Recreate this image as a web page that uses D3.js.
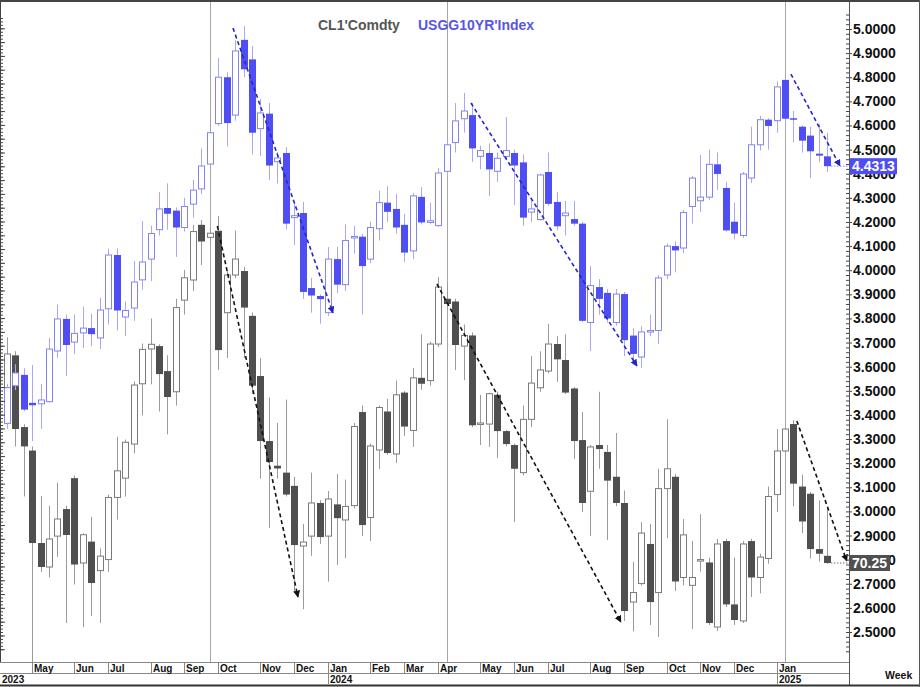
<!DOCTYPE html>
<html><head><meta charset="utf-8">
<script src="https://cdn.jsdelivr.net/npm/d3@7"></script>
<style>body{margin:0;background:#fff}svg{display:block;font-family:"Liberation Sans",Arial,sans-serif}</style>
</head><body><svg id="c" width="920" height="687"></svg>
<script>
// ---------------- DATA ----------------
const firstWeek = new Date(2023, 3, 10);   // week of Mon 10 Apr 2023
const lastWeek  = new Date(2025, 1, 17);   // week of Mon 17 Feb 2025
const weeks = d3.timeMonday.range(firstWeek, d3.timeDay.offset(lastWeek, 1));

// USGG10YR Index weekly OHLC
const usOpen  = [3.365,3.521,3.566,3.450,3.446,3.455,3.665,3.798,3.702,3.740,3.760,3.719,3.840,4.063,3.806,3.843,3.960,4.046,4.168,4.258,4.247,4.177,4.274,4.337,4.440,4.608,4.800,4.643,4.955,4.874,4.587,4.649,4.450,4.486,4.218,4.237,3.926,3.893,3.824,4.046,3.940,4.135,4.139,4.046,4.172,4.280,4.254,4.188,4.080,4.304,4.198,4.185,4.410,4.529,4.628,4.643,4.472,4.486,4.410,4.472,4.486,4.447,4.241,4.210,4.407,4.283,4.226,4.212,4.193,3.783,3.930,3.906,3.783,3.901,3.729,3.640,3.745,3.750,3.980,4.100,4.092,4.264,4.288,4.303,4.439,4.341,4.201,4.144,4.382,4.520,4.624,4.620,4.789,4.630,4.595,4.558,4.483,4.472];
const usHigh  = [3.529,3.610,3.594,3.607,3.528,3.719,3.857,3.816,3.816,3.849,3.820,3.886,4.090,4.090,3.870,4.038,4.204,4.185,4.324,4.360,4.260,4.300,4.374,4.505,4.580,4.880,4.820,4.955,5.012,4.930,4.710,4.693,4.490,4.510,4.283,4.283,3.968,3.900,4.096,4.096,4.190,4.185,4.150,4.201,4.329,4.349,4.316,4.234,4.320,4.345,4.280,4.424,4.535,4.693,4.735,4.693,4.516,4.526,4.488,4.635,4.500,4.480,4.290,4.400,4.488,4.324,4.287,4.287,4.200,4.017,3.963,3.922,3.922,3.910,3.759,3.767,3.816,3.980,4.111,4.119,4.250,4.390,4.478,4.500,4.488,4.366,4.280,4.407,4.595,4.640,4.630,4.783,4.795,4.660,4.600,4.595,4.608,4.570];
const usLow   = [3.342,3.503,3.416,3.292,3.342,3.451,3.636,3.561,3.653,3.677,3.686,3.673,3.775,3.750,3.727,3.790,3.919,3.955,4.144,4.168,4.055,4.160,4.218,4.316,4.432,4.598,4.513,4.620,4.800,4.480,4.473,4.374,4.360,4.170,4.104,3.881,3.824,3.778,3.810,3.905,3.914,4.070,3.816,4.030,4.123,4.201,4.152,4.034,4.046,4.190,4.190,4.180,4.390,4.488,4.570,4.449,4.418,4.308,4.366,4.460,4.270,4.185,4.200,4.205,4.267,4.165,4.144,4.185,3.785,3.665,3.816,3.783,3.770,3.644,3.608,3.595,3.726,3.694,3.963,3.991,4.070,4.193,4.242,4.290,4.333,4.160,4.128,4.134,4.362,4.496,4.500,4.570,4.595,4.530,4.488,4.382,4.447,4.407];
const usClose = [3.513,3.574,3.422,3.440,3.462,3.673,3.798,3.690,3.738,3.760,3.735,3.835,4.063,3.833,3.833,3.951,4.034,4.152,4.254,4.234,4.177,4.264,4.332,4.432,4.570,4.800,4.610,4.909,4.833,4.570,4.652,4.434,4.465,4.193,4.226,3.910,3.895,3.880,4.046,3.940,4.123,4.140,4.017,4.177,4.280,4.242,4.177,4.073,4.308,4.198,4.205,4.403,4.520,4.619,4.660,4.505,4.496,4.418,4.464,4.496,4.434,4.218,4.254,4.395,4.275,4.182,4.237,4.193,3.790,3.936,3.881,3.800,3.901,3.710,3.653,3.744,3.750,3.968,4.100,4.082,4.239,4.382,4.303,4.439,4.399,4.165,4.152,4.399,4.520,4.624,4.598,4.760,4.628,4.625,4.537,4.493,4.475,4.4313];

// CL1 Comdty weekly OHLC
const clOpen  = [82.95,85.30,80.10,78.40,71.70,69.96,72.20,74.16,76.40,70.25,71.80,69.70,70.50,75.00,76.40,78.87,83.24,85.76,85.97,84.16,82.66,89.30,90.76,94.76,93.85,94.33,88.39,91.12,91.41,88.16,83.80,79.09,77.30,76.80,75.84,71.48,72.20,74.60,72.20,74.50,73.37,74.41,81.19,73.55,78.44,81.23,78.15,82.60,79.86,83.67,83.47,86.12,89.40,89.20,85.97,86.74,80.30,80.32,82.44,79.81,78.80,76.80,80.66,82.95,84.16,86.12,84.96,82.90,79.16,75.45,78.80,78.30,76.50,74.60,67.42,68.76,71.63,68.11,75.64,76.50,69.20,68.63,70.40,70.29,65.61,71.84,67.25,66.05,71.84,69.20,70.58,75.21,78.37,80.32,75.79,75.27,71.26,70.77];
const clHigh  = [86.60,85.60,80.30,78.70,75.10,74.40,76.08,74.40,76.60,72.40,73.60,71.30,75.20,79.40,79.20,83.40,86.16,87.97,86.10,85.30,89.40,91.48,94.76,95.10,94.50,95.40,91.40,94.35,91.70,88.40,85.10,82.24,80.40,82.09,76.50,73.08,76.80,74.80,75.47,76.70,76.30,80.40,81.66,78.90,81.66,82.15,83.47,82.70,84.38,86.82,86.30,90.97,90.54,89.40,87.53,86.96,82.44,82.60,82.66,79.90,78.90,81.66,85.25,85.59,87.59,86.68,86.82,83.00,81.19,78.80,82.66,78.80,79.67,75.50,70.34,73.22,73.08,77.08,80.66,76.70,73.44,71.84,73.80,70.63,72.00,72.00,70.63,71.84,72.00,70.92,75.79,79.96,80.10,80.61,76.65,75.40,74.79,74.24];
const clLow   = [82.60,78.70,75.07,63.00,69.60,69.20,70.70,65.90,68.70,65.60,66.40,65.90,69.60,73.40,75.07,78.20,80.95,83.20,81.23,79.57,81.66,88.26,89.96,91.84,93.50,84.24,85.10,90.90,85.10,82.50,76.36,72.80,76.36,75.07,68.20,66.90,70.77,71.63,68.90,70.10,70.60,74.20,72.20,71.84,77.08,78.08,77.50,79.45,78.66,82.80,83.10,85.90,88.70,84.24,83.50,80.10,78.80,78.66,77.86,78.70,73.22,76.60,80.10,82.66,84.00,83.38,82.50,77.79,73.95,72.20,77.08,71.92,74.36,66.05,65.30,68.60,65.76,64.90,72.06,68.22,68.63,65.47,69.63,65.76,65.32,67.06,65.76,65.90,67.79,68.05,70.20,73.95,78.20,74.36,72.42,70.58,70.34,70.20];
const clClose = [85.40,79.96,78.70,71.70,69.96,71.99,73.44,72.28,70.14,72.30,68.80,70.75,75.00,76.93,79.00,83.15,85.73,86.10,83.94,82.28,88.76,90.92,94.27,93.55,94.15,85.68,91.12,92.28,88.76,83.10,79.09,77.57,77.10,75.21,71.55,71.77,74.60,72.13,74.89,73.50,74.35,80.14,73.00,78.73,81.52,78.22,82.44,80.14,83.67,83.24,86.12,90.25,89.02,86.05,86.74,80.23,80.40,82.52,79.81,78.87,77.08,80.66,83.29,84.24,86.12,85.01,82.60,79.09,74.60,78.66,78.51,76.22,74.60,66.77,68.11,72.42,67.42,75.64,77.08,68.91,72.29,69.20,70.50,65.90,71.63,67.25,66.12,71.63,69.20,70.68,75.07,78.37,79.96,76.00,73.26,71.26,70.92,70.25];

// right axis ticks
const rightTicks = d3.range(25, 51).map(v => v / 10);
// marker weeks (vertical lines) – indexes into weeks
const markerWeeks = [24, 52, 92];
// trend lines: [weekIndex, value] start -> end
const usTrends = [[[26.75, 5.004], [38.57, 3.823]], [[54.88, 4.693], [74.50, 3.603]], [[92.70, 4.813], [98.50, 4.432]]];
const clTrends = [[[24.90, 94.67], [34.43, 67.79]], [[50.86, 90.47], [72.60, 65.97]], [[93.40, 80.54], [99.30, 70.40]]];
const usLast = "4.4313", clLast = "70.25";

// ---------------- LAYOUT ----------------
const svg = d3.select("#c");
const plotR = 849, plotT = 2, plotB = 662, monthB = 673, yearB = 684;

const x = d3.scaleTime().domain([firstWeek, lastWeek]).range([6.7, 827.3]);
const yR = d3.scaleLinear().domain([2.5, 5.0]).range([632, 29]);
const yCL = d3.scaleLinear().domain([65.25, 108.95]).range([632, 29]);
const weekAt = i => new Date(firstWeek.getTime() + i * 7 * 864e5);

svg.append("defs").call(df => {
  df.append("clipPath").attr("id", "plotclip").append("rect")
    .attr("x", 0).attr("y", plotT).attr("width", plotR).attr("height", plotB - plotT);
  [["arrB", "#2626c8"], ["arrK", "#111"]].forEach(([id, col]) => {
    df.append("marker").attr("id", id).attr("viewBox", "0 0 10 10").attr("refX", 9).attr("refY", 5)
      .attr("markerWidth", 7).attr("markerHeight", 7).attr("orient", "auto-start-reverse")
      .attr("markerUnits", "userSpaceOnUse")
      .append("path").attr("d", "M0,0 L10,5 L0,10 z").attr("fill", col);
  });
});

const plot = svg.append("g").attr("clip-path", "url(#plotclip)");

// vertical marker lines
plot.selectAll(".vline").data(markerWeeks).join("line")
  .attr("x1", i => Math.round(x(weeks[i])) + 0.5).attr("x2", i => Math.round(x(weeks[i])) + 0.5)
  .attr("y1", 0).attr("y2", plotB).attr("stroke", "#a6a6a6").attr("stroke-width", 1);

function candles(O, H, L, C, y, col) {
  const data = weeks.map((d, i) => ({ d, o: O[i], h: H[i], l: L[i], c: C[i] }));
  const g = plot.append("g");
  const left = d => Math.round(x(d.d) - 3);
  g.selectAll("line").data(data).join("line")
    .attr("x1", d => left(d) + 3.5).attr("x2", d => left(d) + 3.5)
    .attr("y1", d => y(d.h)).attr("y2", d => y(d.l))
    .attr("stroke", col.wick).attr("stroke-width", 1);
  g.selectAll("rect").data(data).join("rect")
    .attr("x", d => d.c >= d.o ? left(d) + 0.5 : left(d))
    .attr("width", d => d.c >= d.o ? 6 : 7)
    .attr("y", d => Math.min(y(d.o), y(d.c)))
    .attr("height", d => Math.max(Math.abs(y(d.o) - y(d.c)), 1.5))
    .attr("fill", d => d.c >= d.o ? "#fff" : col.fill)
    .attr("stroke", d => d.c >= d.o ? col.line : "none").attr("stroke-width", 1);
}
candles(clOpen, clHigh, clLow, clClose, yCL, { wick: "#9a9a9a", fill: "#4f4f4f", line: "#7a7a7a" });
candles(usOpen, usHigh, usLow, usClose, yR, { wick: "#a8a8f4", fill: "#4e4ef2", line: "#8484ee" });

// trend lines
const tl = d3.line().x(p => x(weekAt(p[0])));
plot.selectAll(".ust").data(usTrends).join("path")
  .attr("d", t => tl.y(p => yR(p[1]))(t)).attr("fill", "none")
  .attr("stroke", "#2626c8").attr("stroke-width", 1.6).attr("stroke-dasharray", "4,3")
  .attr("marker-end", "url(#arrB)");
plot.selectAll(".clt").data(clTrends).join("path")
  .attr("d", t => tl.y(p => yCL(p[1]))(t)).attr("fill", "none")
  .attr("stroke", "#111").attr("stroke-width", 1.6).attr("stroke-dasharray", "4,3")
  .attr("marker-end", "url(#arrK)");

// dotted leaders to last price
const lastX = x(weeks[weeks.length - 1]) + 4;
svg.append("line").attr("x1", lastX).attr("x2", plotR).attr("y1", yR(usClose[usClose.length - 1])).attr("y2", yR(usClose[usClose.length - 1]))
  .attr("stroke", "#4e4ef2").attr("stroke-dasharray", "1,2");
svg.append("line").attr("x1", lastX).attr("x2", plotR).attr("y1", yCL(clClose[clClose.length - 1])).attr("y2", yCL(clClose[clClose.length - 1]))
  .attr("stroke", "#333").attr("stroke-dasharray", "1,2");

// legend
svg.append("text").attr("x", 318).attr("y", 30).attr("font-size", 14).attr("font-weight", "bold")
  .attr("fill", "#555").text("CL1'Comdty");
svg.append("text").attr("x", 418).attr("y", 30).attr("font-size", 14).attr("font-weight", "bold")
  .attr("fill", "#5757e4").text("USGG10YR'Index");

// left ruler (CL1 scale, labels hidden)
const leftAx = svg.append("g").attr("transform", "translate(0,0)")
  .call(d3.axisRight(yCL).tickValues(d3.range(64, 110, 0.25)).tickSize(3).tickFormat(""));
leftAx.select(".domain").remove();
leftAx.selectAll("line").attr("stroke", "#444");
const leftMaj = svg.append("g").call(d3.axisRight(yCL).tickValues(d3.range(64, 110, 1)).tickSize(5).tickFormat(""));
leftMaj.select(".domain").remove();
leftMaj.selectAll("line").attr("stroke", "#444");
svg.append("line").attr("x1", 0.5).attr("x2", 0.5).attr("y1", plotT).attr("y2", plotB).attr("stroke", "#444");

// right axis
const rMinor = svg.append("g").attr("transform", `translate(${plotR},0)`)
  .call(d3.axisLeft(yR).tickValues(d3.range(2.42, 5.08, 0.02)).tickSize(3).tickFormat(""));
rMinor.select(".domain").remove();
rMinor.selectAll("line").attr("stroke", "#444");
const rAx = svg.append("g").attr("transform", `translate(${plotR},0)`)
  .call(d3.axisRight(yR).tickValues(rightTicks).tickSize(3).tickPadding(1).tickFormat(d3.format(".4f")));
rAx.select(".domain").remove();
rAx.selectAll("line").attr("stroke", "#444");
rAx.selectAll("text").attr("font-size", 14).attr("font-weight", "bold").attr("fill", "#111")
  .attr("font-family", "Liberation Sans, Arial, sans-serif");
svg.append("line").attr("x1", plotR + 0.5).attr("x2", plotR + 0.5).attr("y1", 0).attr("y2", yearB + 1).attr("stroke", "#555");

// last price boxes
function lastBox(val, txt, y, fill, w) {
  const g = svg.append("g").attr("transform", `translate(${plotR + 1},${y(val)})`);
  g.append("rect").attr("x", 0).attr("y", -8).attr("width", w).attr("height", 16).attr("fill", fill);
  g.append("text").attr("x", 2).attr("y", 5).attr("font-size", 14).attr("font-weight", "bold")
    .attr("fill", "#fff").text(txt);
}
lastBox(usClose[usClose.length - 1], usLast, yR, "#4e4ef2", 47);
lastBox(clClose[clClose.length - 1], clLast, yCL, "#505050", 40);

// bottom time axis
const months = d3.timeMonth.range(new Date(2023, 4, 1), new Date(2025, 1, 1))
  .map(m => d3.timeMonday.ceil(m));
const axG = svg.append("g");
axG.append("line").attr("x1", 0).attr("x2", plotR).attr("y1", plotB + 0.5).attr("y2", plotB + 0.5).attr("stroke", "#888");
axG.append("line").attr("x1", 0).attr("x2", plotR).attr("y1", monthB + 0.5).attr("y2", monthB + 0.5).attr("stroke", "#888");
axG.selectAll(".mt").data(months).join("line")
  .attr("x1", d => Math.round(x(d)) + 0.5).attr("x2", d => Math.round(x(d)) + 0.5)
  .attr("y1", plotB).attr("y2", monthB).attr("stroke", "#888");
axG.selectAll(".ml").data(months).join("text")
  .attr("x", d => Math.round(x(d)) + 2).attr("y", monthB - 1.5)
  .attr("font-size", 10).attr("font-weight", "bold").attr("fill", "#111")
  .text(d3.timeFormat("%b"));
const years = [new Date(2023, 3, 10), d3.timeMonday.ceil(new Date(2024, 0, 1)), d3.timeMonday.ceil(new Date(2025, 0, 1))];
axG.selectAll(".yt").data(years.slice(1)).join("line")
  .attr("x1", d => Math.round(x(d)) + 0.5).attr("x2", d => Math.round(x(d)) + 0.5)
  .attr("y1", monthB).attr("y2", yearB).attr("stroke", "#888");
axG.selectAll(".yl").data(years).join("text")
  .attr("x", (d, i) => i === 0 ? 2 : Math.round(x(d)) + 2).attr("y", yearB - 1.5)
  .attr("font-size", 10).attr("font-weight", "bold").attr("fill", "#111")
  .text(d3.timeFormat("%Y"));
svg.append("text").attr("x", 885).attr("y", 679).attr("font-size", 10.5).attr("font-weight", "bold")
  .attr("fill", "#111").text("Week");

// frame
svg.append("line").attr("x1", 0).attr("x2", 920).attr("y1", 1).attr("y2", 1).attr("stroke", "#444").attr("stroke-width", 2);
svg.append("line").attr("x1", 0).attr("x2", 920).attr("y1", yearB + 1.5).attr("y2", yearB + 1.5).attr("stroke", "#333").attr("stroke-width", 2);
svg.append("line").attr("x1", 919.5).attr("x2", 919.5).attr("y1", 0).attr("y2", 687).attr("stroke", "#555");
</script></body></html>
